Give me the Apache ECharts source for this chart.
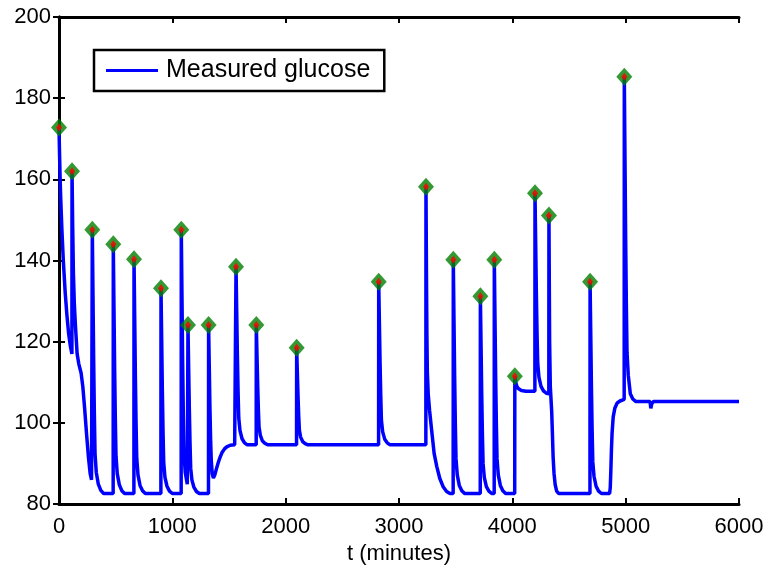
<!DOCTYPE html>
<html>
<head>
<meta charset="utf-8">
<script src="https://cdn.jsdelivr.net/npm/echarts@6/dist/echarts.min.js"></script>
<style>
html,body{margin:0;padding:0;background:#fff;}
#chart{width:770px;height:570px;}
</style>
</head>
<body>
<div id="chart"></div>
<script>
// Measured glucose trace (time in minutes, glucose values)
var timeMin = [
  0,5,10,15,25,38,55,70,85,100,114,
  115,121,127,135,145,160,175,195,210,225,244,260,275,287,293,
  294,300,306,312,318,329,347,369,394,478,
  479,485,491,497,503,514,532,554,579,661,
  662,668,674,680,686,697,715,737,762,899,
  900,906,912,918,924,935,953,975,1000,1078,
  1079,1085,1091,1097,1103,1114,1132,1137,
  1138,1144,1150,1156,1162,1173,1191,1213,1238,1319,
  1320,1326,1332,1338,1344,1352,1362,1375,1390,1406,1421,1440,1460,1480,1510,1550,1561,
  1562,1568,1574,1580,1586,1597,1615,1637,1662,1740,
  1741,1747,1753,1759,1765,1776,1794,1816,1841,2096,
  2097,2103,2109,2115,2121,2132,2150,2172,2197,2820,
  2821,2827,2833,2839,2845,2856,2874,2896,2921,3237,
  3238,3242,3246,3250,3258,3270,3288,3310,3333,3360,3391,3420,3450,3478,
  3479,3485,3491,3497,3503,3514,3532,3554,3579,3717,
  3718,3724,3730,3736,3742,3753,3771,3793,3818,3840,
  3841,3847,3853,3859,3865,3876,3894,3916,3941,4021,
  4022,4030,4040,4055,4080,4120,4199,
  4200,4206,4212,4218,4224,4235,4253,4275,4300,4322,
  4323,4329,4335,4341,4347,4353,4360,4368,4378,4391,4410,4685,
  4686,4692,4698,4704,4710,4721,4739,4761,4786,4858,
  4864,4869,4874,4880,4890,4905,4925,4950,4987,
  4988,4994,5000,5006,5012,5023,5041,5063,5088,5215,5222,5230,5245,6000
];
var glucose = [
  172.8,166,160,155.5,148,140,132,126.5,122,119,117,
  162.0,148,137,129.5,124,117,114.5,112.3,109,104,97,91.5,87.5,86,85.6,
  147.6,131.4,115.1,102.1,92.4,87.8,84.9,83.4,82.6,82.6,
  144.0,128.7,113.3,101.0,91.8,87.5,84.8,83.3,82.6,82.6,
  140.3,125.9,111.5,99.9,91.3,87.2,84.6,83.3,82.6,82.6,
  133.2,120.6,107.9,97.8,90.2,86.6,84.4,83.2,82.6,82.6,
  147.6,131.4,115.1,102.1,92.4,87.8,84.9,84.6,
  124.1,113.7,103.4,95.1,88.8,85.9,84.1,83.1,82.6,82.6,
  124.1,113.7,103.4,95.5,90.5,87.5,86.4,87.2,88.8,90.3,91.5,92.8,93.6,94.1,94.5,94.6,94.6,
  138.5,127.5,116.6,107.8,101.2,98.1,96.1,95.1,94.6,94.6,
  124.1,116.7,109.4,103.5,99.0,97.0,95.6,95.0,94.6,94.6,
  118.5,112.5,106.6,101.8,98.2,96.5,95.4,94.9,94.6,94.6,
  134.8,124.8,114.7,106.7,100.6,97.8,96.0,95.1,94.6,94.6,
  158.2,138,122,112.5,107,103,98.2,92.5,89.3,86.3,84.2,83.1,82.6,82.6,
  140.2,125.8,111.4,99.9,91.2,87.2,84.6,83.3,82.6,82.6,
  131.2,119.1,106.9,97.2,89.9,86.5,84.3,83.2,82.6,82.6,
  140.2,125.8,111.4,99.9,91.2,87.2,84.6,83.3,82.6,82.6,
  111.5,110,109,108.4,108,107.8,107.8,
  156.6,144.3,132,122.1,114.7,111.2,109,107.9,107.3,107.2,
  151.1,120,109,106,103,98,91.5,87.5,84.8,83.2,82.6,82.6,
  134.8,121.8,108.7,98.3,90.4,86.8,84.4,83.2,82.6,82.6,
  84,88,93,97.5,101.5,103.7,104.9,105.4,105.8,
  185.3,165.3,145.3,129.3,117.3,111.7,107.2,105.9,105.3,105.3,103.6,104.7,105.3,105.3
];
// Marked peaks
var peakTime = [0,115,294,479,662,900,1079,1138,1320,1562,1741,2097,2821,3238,3479,3718,3841,4022,4200,4323,4686,4988];
var peakGlucose = [172.8,162.0,147.6,144.0,140.3,133.2,147.6,124.1,124.1,138.5,124.1,118.5,134.8,158.2,140.2,131.2,140.2,111.5,156.6,151.1,134.8,185.3];

var xTicks = {min:0, max:6000, interval:1000};
var yTicks = {min:80, max:200, interval:20};
var xLabel = 't (minutes)';
var seriesName = 'Measured glucose';

var lineData = timeMin.map(function(t,i){return [t, glucose[i]];});
var peakData = peakTime.map(function(t,i){return [t, peakGlucose[i]];});

var FONT = 'Liberation Sans, Arial, Helvetica, sans-serif';
var chart = echarts.init(document.getElementById('chart'), null, {renderer:'canvas'});
var axisLine = {show:true, lineStyle:{color:'#000', width:3}};
var tick = {show:true, inside:true, length:6, lineStyle:{color:'#000', width:2}};
function plain(v){ return String(v); }
chart.setOption({
  animation:false,
  backgroundColor:'#fff',
  grid:{left:59, right:31, top:17, bottom:61, containLabel:false},
  legend:{
    data:[{name:seriesName, icon:'rect'}],
    left:94, top:50,
    itemWidth:52, itemHeight:3, itemGap:8,
    padding:[8,14,8,12],
    borderColor:'#000', borderWidth:2.5, backgroundColor:'#fff',
    textStyle:{color:'#000', fontSize:25, fontFamily:FONT, padding:[0,0,0,3]},
    selectedMode:false
  },
  xAxis:[{
    type:'value', min:xTicks.min, max:xTicks.max, interval:xTicks.interval,
    name:xLabel, nameLocation:'middle', nameGap:33,
    nameTextStyle:{color:'#000', fontSize:22, fontFamily:FONT},
    axisLine:axisLine, axisTick:tick, splitLine:{show:false},
    axisLabel:{color:'#000', fontSize:22, fontFamily:FONT, margin:12, formatter:plain}
  },{
    type:'value', position:'top', min:xTicks.min, max:xTicks.max, interval:xTicks.interval,
    axisLine:axisLine, axisTick:tick, splitLine:{show:false}, axisLabel:{show:false}
  }],
  yAxis:[{
    type:'value', min:yTicks.min, max:yTicks.max, interval:yTicks.interval,
    axisLine:axisLine, axisTick:tick, splitLine:{show:false},
    axisLabel:{color:'#000', fontSize:22, fontFamily:FONT, margin:8, verticalAlign:'middle', formatter:plain}
  },{
    type:'value', position:'right', min:yTicks.min, max:yTicks.max, interval:yTicks.interval,
    axisLine:axisLine, axisTick:tick, splitLine:{show:false}, axisLabel:{show:false}
  }],
  series:[{
    name:seriesName, type:'line', data:lineData, showSymbol:false, symbol:'none',
    lineStyle:{color:'#0000ff', width:3.5}, itemStyle:{color:'#0000ff'},
    smooth:false, z:2, clip:true
  },{
    name:'peaks', type:'scatter', data:peakData, symbol:'diamond', symbolSize:[16,18],
    itemStyle:{color:'#008000'}, z:3, silent:true
  },{
    name:'peaksCenter', type:'scatter', data:peakData, symbol:'diamond', symbolSize:[6,8],
    itemStyle:{color:'#ff0000'}, z:4, silent:true
  }]
});
</script>
</body>
</html>
